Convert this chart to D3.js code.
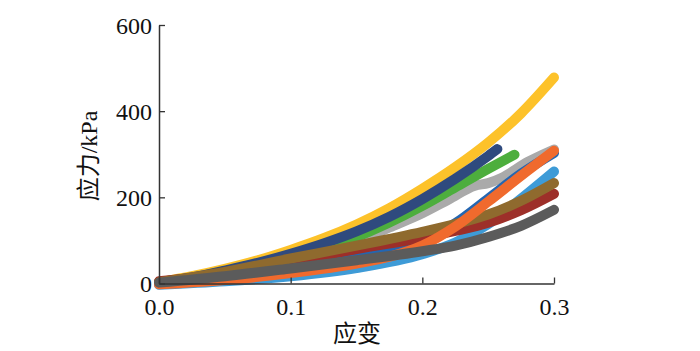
<!DOCTYPE html>
<html>
<head>
<meta charset="utf-8">
<script src="https://cdn.jsdelivr.net/npm/d3@7"></script>
<style>
  html, body { margin: 0; padding: 0; background: #fff; }
  svg { display: block; }
</style>
</head>
<body>
<svg id="chart" width="700" height="351"></svg>
<script>
// ---- data (strain, stress kPa) ----
const xTicks = [0, 0.1, 0.2, 0.3];
const yTicks = [0, 200, 400, 600];

const strainYellow = [0, 0.025, 0.05, 0.075, 0.1, 0.125, 0.15, 0.175, 0.2, 0.225, 0.25, 0.275, 0.3];
const stressYellow = [3, 17, 34, 54, 78, 105, 137, 175, 220, 270, 327, 395, 478];

const strainNavy = [0, 0.025, 0.05, 0.075, 0.1, 0.125, 0.15, 0.175, 0.2, 0.225, 0.25, 0.257];
const stressNavy = [3, 14, 30, 48, 69, 93, 121, 155, 196, 243, 296, 312];

const strainGreen = [0, 0.05, 0.1, 0.15, 0.2, 0.225, 0.25, 0.27];
const stressGreen = [2, 26, 62, 108, 180, 223, 266, 299];

const strainSilver = [0, 0.05, 0.1, 0.15, 0.175, 0.2, 0.22, 0.24, 0.25, 0.26, 0.28, 0.3];
const stressSilver = [2, 24, 55, 98, 130, 163, 195, 227, 233, 245, 282, 311];

const strainBlue = [0, 0.05, 0.1, 0.15, 0.2, 0.225, 0.25, 0.275, 0.3];
const stressBlue = [0, 12, 32, 60, 100, 140, 197, 255, 303];

const strainLightBlue = [0, 0.05, 0.1, 0.15, 0.2, 0.225, 0.25, 0.275, 0.3];
const stressLightBlue = [-3, 5, 17, 36, 68, 95, 138, 197, 260];

const strainBrown = [0, 0.05, 0.1, 0.15, 0.2, 0.225, 0.25, 0.275, 0.3];
const stressBrown = [3, 27, 58, 88, 120, 138, 160, 192, 233];

const strainRed = [0, 0.05, 0.1, 0.15, 0.2, 0.225, 0.25, 0.275, 0.3];
const stressRed = [5, 23, 50, 80, 106, 122, 141, 170, 208];

const strainOrange = [0, 0.05, 0.1, 0.15, 0.175, 0.2, 0.225, 0.25, 0.275, 0.3];
const stressOrange = [-2, 8, 24, 46, 62, 88, 132, 190, 250, 308];

const strainDarkGray = [0, 0.05, 0.1, 0.15, 0.2, 0.225, 0.25, 0.275, 0.3];
const stressDarkGray = [2, 17, 35, 54, 75, 88, 108, 134, 171];

// draw order (bottom to top)
const seriesX = [strainYellow, strainSilver, strainGreen, strainNavy, strainBlue, strainLightBlue, strainRed, strainBrown, strainOrange, strainDarkGray];
const seriesY = [stressYellow, stressSilver, stressGreen, stressNavy, stressBlue, stressLightBlue, stressRed, stressBrown, stressOrange, stressDarkGray];
const colors = ["#fdc22a", "#aaaaaa", "#4dae3d", "#2f4a7e", "#2466b1", "#3e9bd7", "#9d2f29", "#8f6a2e", "#f06a2d", "#5b5b5b"];

// ---- layout ----
const svg = d3.select("#chart");
const x = d3.scaleLinear().domain([0, 0.3]).range([159, 554]);
const y = d3.scaleLinear().domain([0, 600]).range([283.5, 25]);
const serif = "'Liberation Serif', 'Times New Roman', 'Noto Sans CJK SC', serif";

// lines
const line = d3.line()
  .x(d => x(d[0]))
  .y(d => y(d[1]))
  .curve(d3.curveMonotoneX);

seriesX.forEach((xs, i) => {
  const pts = xs.map((v, j) => [v, seriesY[i][j]]);
  svg.append("path")
    .attr("d", line(pts))
    .attr("fill", "none")
    .attr("stroke", colors[i])
    .attr("stroke-width", 10)
    .attr("stroke-linecap", "round")
    .attr("stroke-linejoin", "round");
});

// axes
const xAxis = d3.axisBottom(x).tickValues(xTicks).tickSize(-6).tickSizeOuter(0).tickFormat(d3.format(".1f")).tickPadding(14);
const yAxis = d3.axisLeft(y).tickValues(yTicks).tickSize(-6).tickSizeOuter(0).tickFormat(d3.format("d")).tickPadding(7);

const gx = svg.append("g").attr("transform", `translate(0,${y(0)})`).call(xAxis);
const gy = svg.append("g").attr("transform", `translate(${x(0)},0)`).call(yAxis);

[gx, gy].forEach(g => {
  g.select(".domain").attr("stroke", "#333").attr("stroke-width", 1.5);
  g.selectAll(".tick line").attr("stroke", "#333").attr("stroke-width", 1.3);
  g.selectAll(".tick text")
    .attr("font-family", serif)
    .attr("font-size", 24)
    .attr("fill", "#111");
});
gy.selectAll(".tick text").attr("dy", "0.34em");

// axis titles
svg.append("text")
  .attr("x", 357).attr("y", 342)
  .attr("text-anchor", "middle")
  .attr("font-family", serif)
  .attr("font-size", 24)
  .attr("fill", "#111")
  .text("应变");

svg.append("text")
  .attr("transform", "translate(97,156) rotate(-90)")
  .attr("text-anchor", "middle")
  .attr("font-family", serif)
  .attr("font-size", 24)
  .attr("fill", "#111")
  .text("应力/kPa");
</script>
</body>
</html>
